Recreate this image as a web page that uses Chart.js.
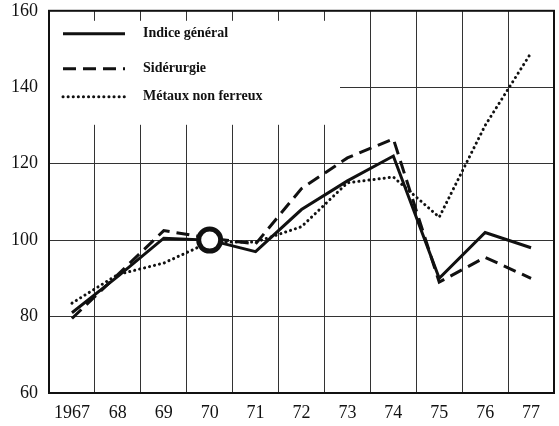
<!DOCTYPE html>
<html>
<head>
<meta charset="utf-8">
<script src="https://cdn.jsdelivr.net/npm/chart.js@4/dist/chart.umd.min.js"></script>
<style>
  html, body { margin: 0; padding: 0; background: #fff; }
  #wrap { width: 559px; height: 426px; }
</style>
</head>
<body>
<div id="wrap"><canvas id="myChart" width="559" height="426"></canvas></div>
<script>
// values (index, base 1970 = 100)
var years = ['1967', '68', '69', '70', '71', '72', '73', '74', '75', '76', '77'];
var indiceGeneral = [81, 90.5, 100.5, 100, 97, 108, 115.5, 122, 90, 102, 98];
var siderurgie = [79.5, 91, 102.5, 100.5, 99, 113.5, 121.5, 126.5, 89, 95.5, 90];
var metauxNonFerreux = [83.5, 91, 94, 99.5, 99.5, 103.5, 115, 116.5, 106, 130, 149];
var yTicks = [60, 80, 100, 120, 140, 160];
var baseYear = '70';

var ink = '#111';
var serif = '"Liberation Serif", "DejaVu Serif", serif';

// big ring on the base year of the main index
var ringRadius = years.map(function (y) { return y === baseYear ? 11 : 0; });

// white legend box sitting inside the plot, drawn over the grid
var legendBox = {
	id: 'legendBox',
	beforeDatasetsDraw: function (chart) {
		var ctx = chart.ctx;
		var area = chart.chartArea;
		ctx.save();
		ctx.fillStyle = '#fff';
		ctx.fillRect(area.left + 1, area.top + 10, 290, 104);

		var rows = [23, 58, 86];
		chart.data.datasets.forEach(function (ds, i) {
			var y = area.top + rows[i];
			ctx.strokeStyle = ink;
			ctx.lineWidth = ds.borderWidth;
			ctx.lineCap = ds.borderCapStyle || 'butt';
			ctx.setLineDash(ds.borderDash || []);
			ctx.beginPath();
			ctx.moveTo(63, y);
			ctx.lineTo(125, y);
			ctx.stroke();
			ctx.setLineDash([]);
			ctx.fillStyle = ink;
			ctx.font = 'bold 14px ' + serif;
			ctx.textBaseline = 'middle';
			ctx.fillText(ds.label, 143, y);
		});
		ctx.restore();
	},
	afterDraw: function (chart) {
		// frame round the plot
		var ctx = chart.ctx;
		var a = chart.chartArea;
		ctx.save();
		ctx.strokeStyle = ink;
		ctx.lineWidth = 2;
		ctx.strokeRect(a.left, a.top, a.right - a.left, a.bottom - a.top);
		ctx.restore();
	}
};

var ctx = document.getElementById('myChart').getContext('2d');
new Chart(ctx, {
	type: 'line',
	data: {
		labels: years,
		datasets: [
			{
				label: 'Indice général',
				data: indiceGeneral,
				borderColor: ink,
				borderWidth: 3,
				pointRadius: ringRadius,
				pointBorderWidth: 5,
				pointBorderColor: ink,
				pointBackgroundColor: '#fff',
				tension: 0
			},
			{
				label: 'Sidérurgie',
				data: siderurgie,
				borderColor: ink,
				borderWidth: 3,
				borderDash: [13, 7],
				pointRadius: 0,
				tension: 0
			},
			{
				label: 'Métaux non ferreux',
				data: metauxNonFerreux,
				borderColor: ink,
				borderWidth: 3,
				borderDash: [0.1, 5],
				borderCapStyle: 'round',
				pointRadius: 0,
				tension: 0
			}
		]
	},
	options: {
		animation: false,
		responsive: false,
		layout: { padding: { top: 1, right: 5, left: 0, bottom: 0 } },
		plugins: {
			legend: { display: false },
			tooltip: { enabled: false }
		},
		scales: {
			x: {
				offset: true,
				grid: { offset: true, color: '#333', lineWidth: 1, drawTicks: false },
				border: { display: false },
				ticks: {
					color: ink,
					padding: 9,
					maxRotation: 0,
					autoSkip: false,
					font: { family: serif, size: 18 }
				},
				afterFit: function (s) { s.height = 33; }
			},
			y: {
				min: 60,
				max: 160,
				afterBuildTicks: function (s) {
					s.ticks = yTicks.map(function (v) { return { value: v }; });
				},
				grid: {
					color: '#333',
					lineWidth: 1,
					drawTicks: true,
					tickLength: 11,
					tickColor: 'rgba(0,0,0,0)'
				},
				border: { display: false },
				ticks: {
					color: ink,
					padding: 0,
					font: { family: serif, size: 18 }
				},
				afterFit: function (s) { s.width = 49; }
			}
		}
	},
	plugins: [legendBox]
});
</script>
</body>
</html>
